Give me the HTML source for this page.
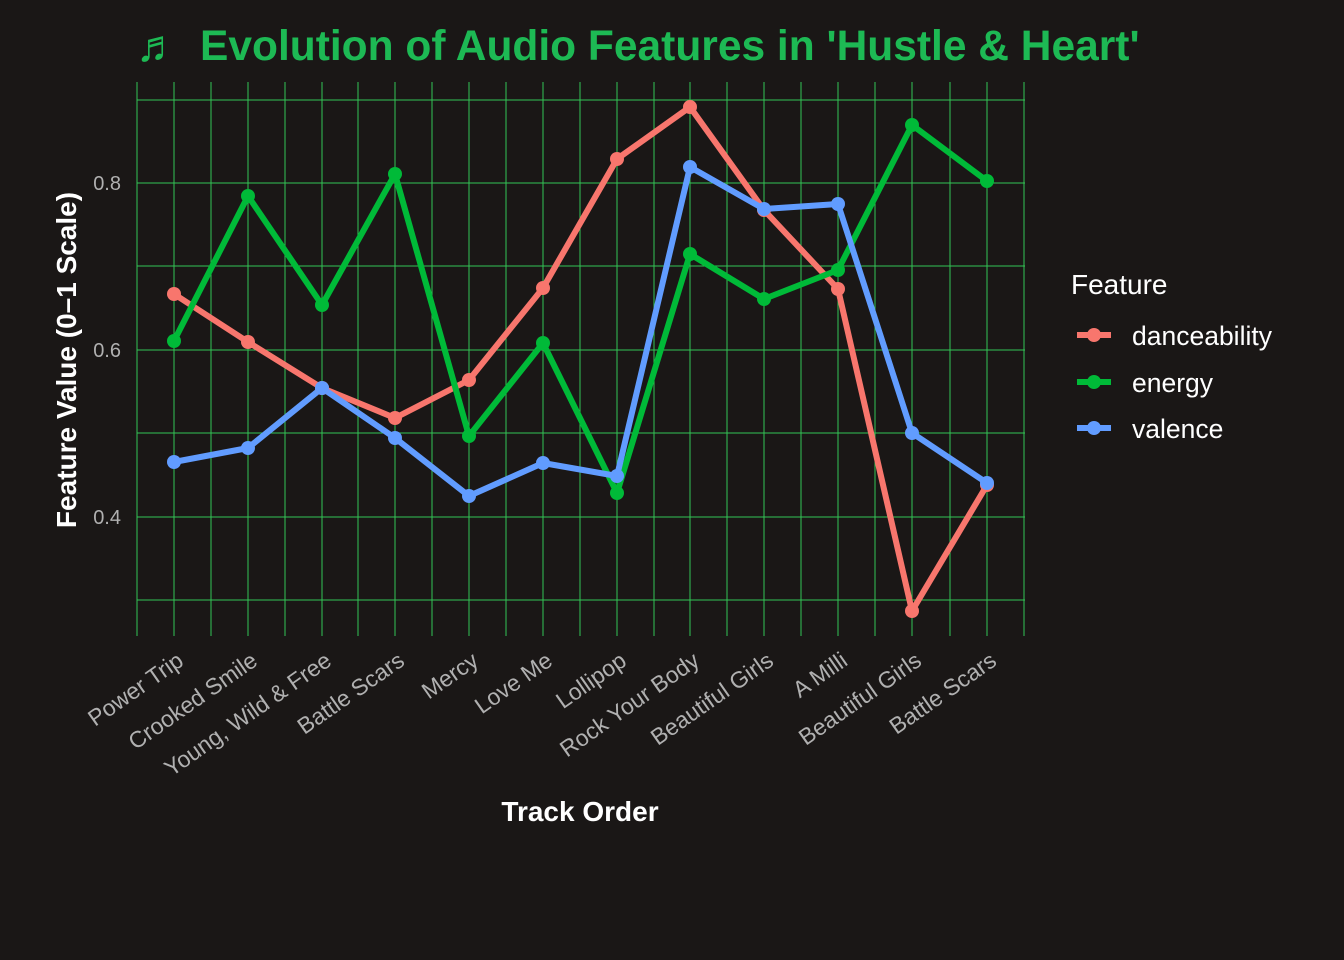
<!DOCTYPE html>
<html><head><meta charset="utf-8"><style>
html,body{margin:0;padding:0;background:#1a1716;}
svg{display:block;font-family:"Liberation Sans","DejaVu Sans",sans-serif;}
</style></head><body>
<svg width="1344" height="960" viewBox="0 0 1344 960">
<rect width="1344" height="960" fill="#1a1716"/>
<g stroke="#33c455" stroke-width="1" fill="none" shape-rendering="crispEdges">
<path d="M137 100H1025M137 183H1025M137 266H1025M137 350H1025M137 433H1025M137 517H1025M137 600H1025"/>
<path d="M137 82V636M174 82V636M211 82V636M248 82V636M285 82V636M322 82V636M358 82V636M395 82V636M432 82V636M469 82V636M506 82V636M543 82V636M580 82V636M617 82V636M654 82V636M690 82V636M727 82V636M764 82V636M801 82V636M838 82V636M875 82V636M912 82V636M950 82V636M1024 82V636M987 82V636"/>
</g>
<g fill="none" stroke-width="6" stroke-linejoin="round">
<polyline stroke="#f8766d" points="174,294 248,342 322,388 395,418 469,380 543,288 617,159 690,107 764,210 838,289 912,611 987,485"/>
<polyline stroke="#00ba38" points="174,341 248,196 322,305 395,174 469,436 543,343 617,493 690,254 764,299 838,270 912,125 987,181"/>
<polyline stroke="#619cff" points="174,462 248,448 322,388 395,438 469,496 543,463 617,476 690,167 764,209 838,204 912,433 987,483"/>
</g>
<g fill="#f8766d"><circle cx="174" cy="294" r="7"/><circle cx="248" cy="342" r="7"/><circle cx="322" cy="388" r="7"/><circle cx="395" cy="418" r="7"/><circle cx="469" cy="380" r="7"/><circle cx="543" cy="288" r="7"/><circle cx="617" cy="159" r="7"/><circle cx="690" cy="107" r="7"/><circle cx="764" cy="210" r="7"/><circle cx="838" cy="289" r="7"/><circle cx="912" cy="611" r="7"/><circle cx="987" cy="485" r="7"/></g>
<g fill="#00ba38"><circle cx="174" cy="341" r="7"/><circle cx="248" cy="196" r="7"/><circle cx="322" cy="305" r="7"/><circle cx="395" cy="174" r="7"/><circle cx="469" cy="436" r="7"/><circle cx="543" cy="343" r="7"/><circle cx="617" cy="493" r="7"/><circle cx="690" cy="254" r="7"/><circle cx="764" cy="299" r="7"/><circle cx="838" cy="270" r="7"/><circle cx="912" cy="125" r="7"/><circle cx="987" cy="181" r="7"/></g>
<g fill="#619cff"><circle cx="174" cy="462" r="7"/><circle cx="248" cy="448" r="7"/><circle cx="322" cy="388" r="7"/><circle cx="395" cy="438" r="7"/><circle cx="469" cy="496" r="7"/><circle cx="543" cy="463" r="7"/><circle cx="617" cy="476" r="7"/><circle cx="690" cy="167" r="7"/><circle cx="764" cy="209" r="7"/><circle cx="838" cy="204" r="7"/><circle cx="912" cy="433" r="7"/><circle cx="987" cy="483" r="7"/></g>
<g fill="#b0b0b0" font-size="20" text-anchor="end">
<text x="121" y="190">0.8</text><text x="121" y="357">0.6</text><text x="121" y="524">0.4</text>
</g>
<g fill="#b0b0b0" font-size="23" text-anchor="end">
<text transform="translate(185,664) rotate(-35)">Power Trip</text>
<text transform="translate(259,664) rotate(-35)">Crooked Smile</text>
<text transform="translate(333,664) rotate(-35)">Young, Wild &amp; Free</text>
<text transform="translate(406,664) rotate(-35)">Battle Scars</text>
<text transform="translate(480,664) rotate(-35)">Mercy</text>
<text transform="translate(554,664) rotate(-35)">Love Me</text>
<text transform="translate(628,664) rotate(-35)">Lollipop</text>
<text transform="translate(701,664) rotate(-35)">Rock Your Body</text>
<text transform="translate(775,664) rotate(-35)">Beautiful Girls</text>
<text transform="translate(849,664) rotate(-35)">A Milli</text>
<text transform="translate(923,664) rotate(-35)">Beautiful Girls</text>
<text transform="translate(998,664) rotate(-35)">Battle Scars</text>
</g>
<text x="580" y="821" fill="#ffffff" font-size="28" font-weight="bold" text-anchor="middle">Track Order</text>
<text transform="translate(76,360) rotate(-90)" fill="#ffffff" font-size="28" font-weight="bold" text-anchor="middle">Feature Value (0–1 Scale)</text>
<text x="136" y="61" fill="#1db954" font-size="44" font-weight="bold">♬</text>
<text x="200" y="60" fill="#1db954" font-size="42.5" font-weight="bold">Evolution of Audio Features in 'Hustle &amp; Heart'</text>
<text x="1071" y="294" fill="#ffffff" font-size="28">Feature</text>
<g stroke-width="6"><line x1="1077" y1="335" x2="1111" y2="335" stroke="#f8766d"/><line x1="1077" y1="382" x2="1111" y2="382" stroke="#00ba38"/><line x1="1077" y1="428" x2="1111" y2="428" stroke="#619cff"/></g>
<circle cx="1094" cy="335" r="7" fill="#f8766d"/><circle cx="1094" cy="382" r="7" fill="#00ba38"/><circle cx="1094" cy="428" r="7" fill="#619cff"/>
<g fill="#ffffff" font-size="26.5"><text x="1132" y="345">danceability</text><text x="1132" y="392">energy</text><text x="1132" y="438">valence</text></g>
</svg>
</body></html>
